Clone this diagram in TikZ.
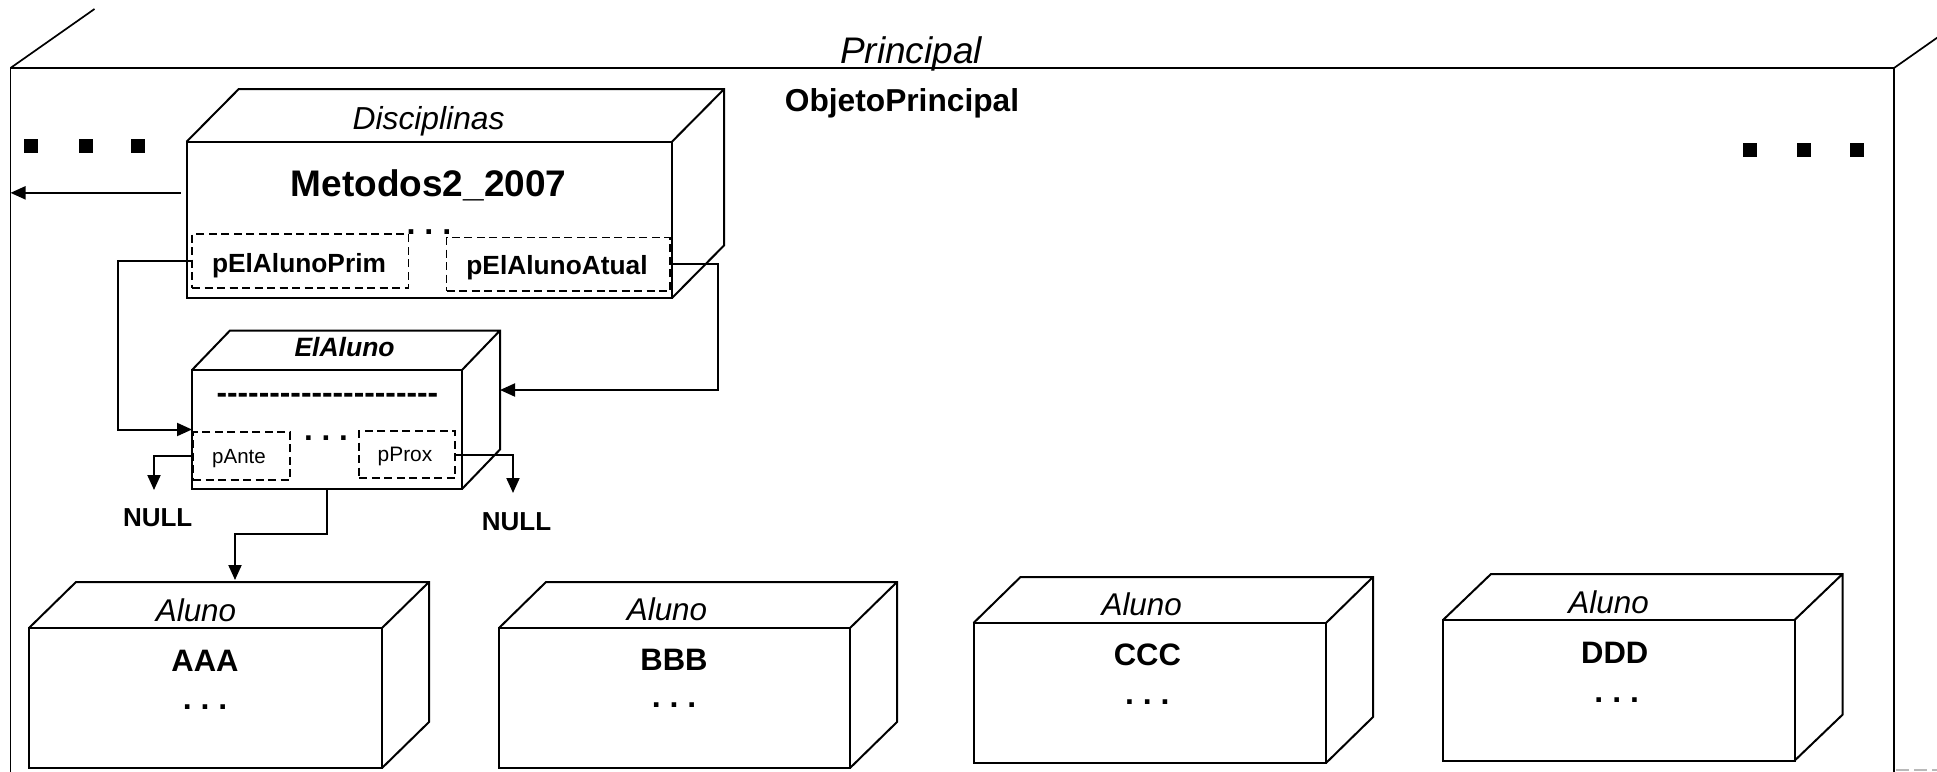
\documentclass[tikz,border=0pt]{standalone}
\usepackage{fontspec}
\setmainfont{Liberation Sans}
\usetikzlibrary{arrows.meta}
\newcommand\fsz[1]{\fontsize{#1pt}{#1pt}\selectfont}
\newcommand\hy{-\kern0pt}
\newcommand\hyrow{\hy\hy\hy\hy\hy\hy\hy\hy\hy\hy\hy\hy\hy\hy\hy\hy\hy\hy\hy\hy\hy}
\newcommand\mkcube[7]{%
  \node[face, minimum width=#4pt, minimum height=#5pt] (#1) at (#2,#3) {};
  \draw[line join=miter] (#1.north west) -- ++(#6,-#7) -- ++(#4,0) -- ++(0,#5) -- (#1.south east)
        (#1.north east) -- ++(#6,-#7);
}
\begin{document}
\begin{tikzpicture}[x=1pt,y=-1pt,line width=2pt,
  face/.style={draw, line width=2pt, inner sep=0pt, outer sep=0pt, anchor=north west},
  field/.style={draw, line width=1.8pt, dash pattern=on 8pt off 4.5pt, inner sep=0pt, outer sep=0pt, anchor=north west},
  txt/.style={inner sep=0pt, anchor=base},
  arr/.style={line width=2pt, -{Triangle[length=15pt,width=13pt]}}]
\useasboundingbox (0,0) rectangle (1937,771);
\clip (0,0) rectangle (1937,771);

% Principal
\node[face, line width=1.7pt, minimum width=1883.5pt, minimum height=740pt] (princ) at (10.5,68) {};
\draw[line width=1.7pt] (princ.north west) -- ++(84,-59);
\draw[line width=1.7pt] (princ.north east) -- ++(84,-59);
\node[txt, font=\fsz{37}\itshape] (tprinc) at (911,63.3) {Principal};
\node[txt, font=\fsz{31.7}\bfseries] (tobj) at (902,111.7) {ObjetoPrincipal};

% ellipsis squares
\foreach \c in {31,86,138} \fill (\c-6.75,139.25) rectangle ++(13.5,13.5);
\foreach \c in {1749.6,1803.6,1857} \fill (\c-7,143.25) rectangle ++(14,13.5);

% Disciplinas
\mkcube{disc}{186.6}{141.7}{485.4}{156.3}{52}{52.5}
\node[txt, font=\fsz{31.8}\itshape] (tdisc) at (428.6,129) {Disciplinas};
\node[txt, font=\fsz{37}\bfseries] (tmet) at (428.6,196) {Metodos2\_2007};
\node[field, minimum width=216.5pt, minimum height=54pt] (fprim) at (192,234) {};
\node[field, minimum width=223.5pt, minimum height=53.5pt] (fatual) at (446.5,237.5) {};
\node[txt, font=\fsz{26.3}\bfseries] (tprim) at (299,272) {pElAlunoPrim};
\node[txt, font=\fsz{26.3}\bfseries] (tatual) at (557,274) {pElAlunoAtual};
\node[txt, font=\fsz{32.4}\bfseries] (dots1) at (429,234.2) {.\ .\ .};

% ElAluno
\mkcube{elf}{192}{370}{270}{119}{38}{39.5}
\node[txt, font=\fsz{26.5}\bfseries\itshape] (tel) at (344.6,356.7) {ElAluno};
\node[txt, font=\fsz{31.7}\bfseries] (thy) at (327.4,403.6) {\hyrow};
\node[field, minimum width=97pt, minimum height=48pt] (fante) at (193,432) {};
\node[field, minimum width=95.7pt, minimum height=47pt] (fprox) at (359.3,431) {};
\node[txt, font=\fsz{20.5}] (tante) at (239,463) {pAnte};
\node[txt, font=\fsz{20.9}] (tprox) at (405,461.7) {pProx};
\node[txt, font=\fsz{31.5}\bfseries] (dots2) at (326,440.5) {.\ .\ .};
\node[txt, font=\fsz{26}\bfseries] (nullA) at (157.7,526.7) {NULL};
\node[txt, font=\fsz{26}\bfseries] (nullB) at (516.6,530) {NULL};

% Aluno boxes
\mkcube{aaa}{29}{628}{353}{140}{47}{46}
\mkcube{bbb}{499}{628}{351}{140}{47}{46}
\mkcube{ccc}{973.5}{623}{352.5}{140}{47}{46}
\mkcube{ddd}{1443}{620}{351.5}{140.7}{48}{46}
\node[txt, font=\fsz{31.4}\itshape] (la) at (196,621.7) {Aluno};
\node[txt, font=\fsz{31}\bfseries] (na) at (205,671.7) {AAA};
\node[txt, font=\fsz{32}\bfseries] (da) at (205,709) {.\ .\ .};
\node[txt, font=\fsz{31.4}\itshape] (lb) at (667,620) {Aluno};
\node[txt, font=\fsz{31}\bfseries] (nb) at (674,670) {BBB};
\node[txt, font=\fsz{32}\bfseries] (db) at (674,707) {.\ .\ .};
\node[txt, font=\fsz{31.4}\itshape] (lc) at (1141.7,615) {Aluno};
\node[txt, font=\fsz{31}\bfseries] (nc) at (1147.4,665) {CCC};
\node[txt, font=\fsz{32}\bfseries] (dc) at (1147.4,704) {.\ .\ .};
\node[txt, font=\fsz{31.4}\itshape] (ld) at (1608.6,613.3) {Aluno};
\node[txt, font=\fsz{31}\bfseries] (nd) at (1614.7,663.3) {DDD};
\node[txt, font=\fsz{32}\bfseries] (dd) at (1616.7,702) {.\ .\ .};

% connectors
\coordinate (a1) at ([xshift=-6pt,yshift=27pt]disc.west);
\draw[arr] (a1) -- (a1 -| princ.west);
\draw[arr] (fprim.west) -- ++(-74.5,0) |- (elf.west);
\draw[arr] (fatual.east) -- ++(48.3,0) |- ([xshift=38pt,yshift=39.5pt]elf.east);
\coordinate (nA) at (154,490);
\draw[arr] (fante.west) -| (nA);
\coordinate (nB) at (513,493);
\draw[arr] (fprox.east) -| (nB);
\coordinate (aT) at (235,580);
\draw[arr] (elf.south) -- ++(0,45) -| (aT);

\draw[gray!55, line width=1.5pt, dash pattern=on 13pt off 5pt] (1896,770) -- (1937,770);
\end{tikzpicture}
\end{document}
